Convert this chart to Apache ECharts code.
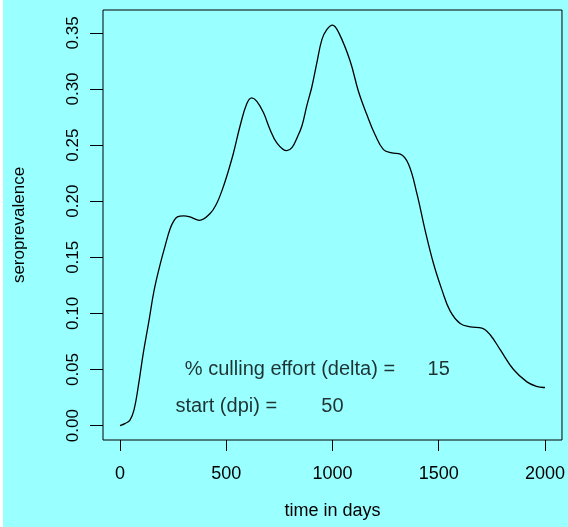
<!DOCTYPE html>
<html>
<head>
<meta charset="utf-8">
<script src="https://cdn.jsdelivr.net/npm/echarts@6/dist/echarts.min.js"></script>
<style>
html,body{margin:0;padding:0;background:#ffffff;}
#chart{position:absolute;left:3px;top:0;width:565px;height:527px;}
</style>
</head>
<body>
<div id="chart"></div>
<script>
// time (days) and seroprevalence
var days = [0,25,47,66,86,110,135,160,188,212,235,252,270,300,330,374,424,455,479,502,534,565,597,620,644,675,706,738,785,810,832,856,879,903,926,950,973,1000,1030,1083,1122,1162,1201,1240,1279,1319,1358,1397,1436,1476,1515,1554,1601,1648,1703,1742,1790,1852,1915,1960,1993,2000];
var seroprevalence = [0.000,0.002,0.005,0.014,0.035,0.065,0.092,0.120,0.143,0.160,0.175,0.182,0.186,0.187,0.186,0.183,0.189,0.198,0.209,0.222,0.243,0.267,0.287,0.292,0.289,0.279,0.264,0.252,0.245,0.248,0.256,0.267,0.285,0.302,0.323,0.344,0.353,0.357,0.350,0.325,0.298,0.277,0.259,0.246,0.243,0.242,0.233,0.207,0.174,0.144,0.121,0.102,0.091,0.088,0.087,0.081,0.0675,0.050,0.039,0.035,0.034,0.034];
var xTicks = [0,500,1000,1500,2000];
var yTicks = [0,0.05,0.10,0.15,0.20,0.25,0.30,0.35];
var yTickLabels = ['0.00','0.05','0.10','0.15','0.20','0.25','0.30','0.35'];
var annotTexts = ['% culling effort (delta) =','15','start (dpi) =','50'];
var annotX = [800,1500,500,1000];
var annotY = [0.05,0.05,0.017,0.017];

var lineData = days.map(function(d,i){return [d, seroprevalence[i]];});
var annotData = annotTexts.map(function(t,i){return {value:[annotX[i], annotY[i]], name:t};});

var FONT = 'Liberation Sans, Arial, sans-serif';
var chart = echarts.init(document.getElementById('chart'), null, {renderer:'canvas'});
chart.setOption({
  backgroundColor:'#99FFFF',
  animation:false,
  grid:{left:100, top:10, right:3, bottom:87, show:true, borderColor:'#000', borderWidth:1, backgroundColor:'transparent'},
  xAxis:{
    type:'value', min:-80, max:2080,
    name:'time in days', nameLocation:'middle', nameGap:62,
    nameTextStyle:{fontFamily:FONT, fontSize:18, color:'#000'},
    axisLine:{show:false, onZero:false},
    splitLine:{show:false},
    axisTick:{show:true, inside:false, length:11, customValues:xTicks, lineStyle:{color:'#000', width:1}},
    axisLabel:{show:true, customValues:xTicks, margin:25, fontFamily:FONT, fontSize:18, color:'#000',
      formatter:function(v){return String(v);}}
  },
  yAxis:{
    type:'value', min:-0.0128, max:0.3704,
    name:'seroprevalence', nameLocation:'middle', nameGap:75, nameRotate:90,
    nameTextStyle:{fontFamily:FONT, fontSize:17, color:'#000'},
    axisLine:{show:false, onZero:false},
    splitLine:{show:false},
    axisTick:{show:true, inside:false, length:13, customValues:yTicks, lineStyle:{color:'#000', width:1}},
    axisLabel:{show:true, customValues:yTicks, rotate:90, margin:21, fontFamily:FONT, fontSize:17, color:'#000',
      formatter:function(v){var i=yTicks.findIndex(function(t){return Math.abs(t-v)<1e-9;}); return i>=0?yTickLabels[i]:v.toFixed(2);}}
  },
  series:[
    {type:'line', data:lineData, smooth:0.4, showSymbol:false, symbol:'none',
     lineStyle:{color:'#000', width:1.3}, silent:true},
    {type:'scatter', data:annotData, symbolSize:0, silent:true,
     label:{show:true, position:'inside', formatter:function(p){return p.name;},
       fontFamily:FONT, fontSize:20, color:'#000'}}
  ]
});
</script>
</body>
</html>
